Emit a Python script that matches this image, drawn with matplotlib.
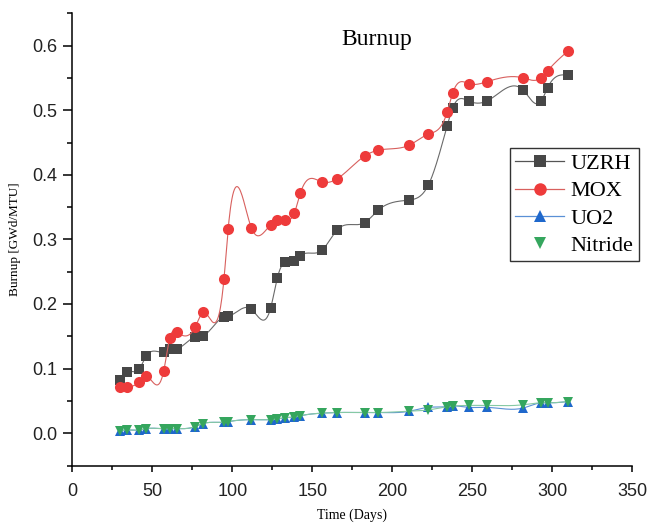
import matplotlib
matplotlib.use("Agg")
import matplotlib.pyplot as plt
from matplotlib.lines import Line2D
from matplotlib.ticker import MultipleLocator, FormatStrFormatter
import numpy as np

# time points (days)
days = [29.8, 34.0, 41.7, 46.1, 57.1, 61.0, 65.6, 76.7, 81.8, 94.8, 97.4,
        111.9, 124.0, 128.2, 133.0, 138.8, 142.6, 155.9, 165.6, 182.7, 191.1,
        210.7, 222.5, 234.3, 237.8, 247.9, 259.0, 281.8, 293.0, 297.1, 310.0]

uzrh = [0.083, 0.095, 0.099, 0.119, 0.126, 0.130, 0.131, 0.149, 0.151, 0.180, 0.181,
        0.192, 0.194, 0.241, 0.265, 0.267, 0.275, 0.283, 0.315, 0.326, 0.345,
        0.361, 0.384, 0.476, 0.504, 0.514, 0.514, 0.531, 0.514, 0.535, 0.554]

mox = [0.072, 0.072, 0.079, 0.088, 0.096, 0.148, 0.156, 0.164, 0.187, 0.239, 0.316,
       0.318, 0.323, 0.330, 0.330, 0.341, 0.372, 0.389, 0.394, 0.429, 0.438,
       0.446, 0.463, 0.497, 0.527, 0.541, 0.544, 0.550, 0.550, 0.561, 0.592]

uo2 = [0.004, 0.005, 0.005, 0.007, 0.007, 0.007, 0.007, 0.010, 0.015, 0.017, 0.018,
       0.021, 0.021, 0.022, 0.024, 0.025, 0.027, 0.031, 0.032, 0.032, 0.032,
       0.034, 0.040, 0.041, 0.042, 0.040, 0.040, 0.039, 0.047, 0.047, 0.049]

nitride = [0.004, 0.005, 0.005, 0.007, 0.007, 0.007, 0.007, 0.010, 0.015, 0.017, 0.018,
           0.021, 0.021, 0.022, 0.024, 0.025, 0.027, 0.031, 0.032, 0.032, 0.032,
           0.034, 0.036, 0.041, 0.042, 0.043, 0.043, 0.044, 0.047, 0.047, 0.049]


def natural_spline(x, y, per_seg=30):
    x = np.asarray(x, float)
    y = np.asarray(y, float)
    n = len(x)
    h = np.diff(x)
    A = np.zeros((n, n))
    r = np.zeros(n)
    A[0, 0] = A[-1, -1] = 1.0
    for i in range(1, n - 1):
        A[i, i - 1] = h[i - 1]
        A[i, i] = 2 * (h[i - 1] + h[i])
        A[i, i + 1] = h[i]
        r[i] = 3 * ((y[i + 1] - y[i]) / h[i] - (y[i] - y[i - 1]) / h[i - 1])
    c = np.linalg.solve(A, r)
    b = (y[1:] - y[:-1]) / h - h * (2 * c[:-1] + c[1:]) / 3
    d = (c[1:] - c[:-1]) / (3 * h)
    xs, ys = [], []
    for i in range(n - 1):
        t = np.linspace(0, h[i], per_seg, endpoint=False)
        xs.append(x[i] + t)
        ys.append(y[i] + b[i] * t + c[i] * t**2 + d[i] * t**3)
    xs.append([x[-1]])
    ys.append([y[-1]])
    return np.concatenate(xs), np.concatenate(ys)


serif = "Liberation Serif"
sans = "Liberation Sans"
plt.rcParams["font.family"] = sans

fig = plt.figure(figsize=(6.49, 5.24), dpi=100)
ax = fig.add_axes([72.3 / 649, 1 - 465.5 / 524, (632.3 - 72.3) / 649, (465.5 - 13.3) / 524])

series = [
    ("UZRH", uzrh, "s", "#474747", "#6a6a6a", 7.0),
    ("MOX", mox, "o", "#ee3b3b", "#d8605e", 8.0),
    ("UO2", uo2, "^", "#1f68cc", "#5a90d6", 7.0),
    ("Nitride", nitride, "v", "#35a65e", "#86c9a4", 7.0),
]

handles = []
for name, vals, mk, mcol, lcol, ms in series:
    sx, sy = natural_spline(days, vals)
    ax.plot(sx, sy, color=lcol, lw=0.8)
    ax.plot(days, vals, linestyle="none", marker=mk, color=mcol, markersize=ms,
            markeredgewidth=0)
    ls = "none" if name == "Nitride" else "-"
    handles.append(Line2D([], [], color=lcol if name != "UZRH" else "#555555", lw=0.9,
                          linestyle=ls, marker=mk, markerfacecolor=mcol,
                          markeredgewidth=0, markersize=ms + 1, label=name))

ax.set_xlim(0, 350)
ax.set_ylim(-0.05, 0.65)
ax.xaxis.set_major_locator(MultipleLocator(50))
ax.xaxis.set_minor_locator(MultipleLocator(25))
ax.yaxis.set_major_locator(MultipleLocator(0.1))
ax.yaxis.set_minor_locator(MultipleLocator(0.05))
ax.yaxis.set_major_formatter(FormatStrFormatter("%.1f"))

for side in ("top", "right"):
    ax.spines[side].set_visible(False)
for side in ("left", "bottom"):
    ax.spines[side].set_linewidth(1.1)

ax.tick_params(axis="y", which="major", length=6.5, width=1.1, pad=4.5,
               labelsize=13, labelcolor="#222222")
ax.tick_params(axis="y", which="minor", length=3.5, width=1.1)
ax.tick_params(axis="x", which="major", length=4.5, width=1.1, pad=8,
               labelsize=13, labelcolor="#222222")
ax.tick_params(axis="x", which="minor", length=2.7, width=1.1)

ax.set_xlabel("Time (Days)", fontfamily=serif, fontsize=10, labelpad=6)
ax.set_ylabel("Burnup [GWd/MTU]", fontfamily=serif, fontsize=9.5, labelpad=8)

fig.text(376.7 / 649, 1 - 39 / 524, "Burnup", ha="center", va="center",
         fontfamily=serif, fontsize=17)

leg = fig.legend(handles=handles, loc="upper left",
                 bbox_to_anchor=(509.5 / 649, 1 - 148 / 524),
                 prop={"family": serif, "size": 16}, frameon=True, fancybox=False,
                 edgecolor="black", borderpad=0.25, labelspacing=0.3,
                 handlelength=2.2, handletextpad=0.3, borderaxespad=0)
leg.get_frame().set_linewidth(1.0)

fig.savefig("out.png", dpi=100)
